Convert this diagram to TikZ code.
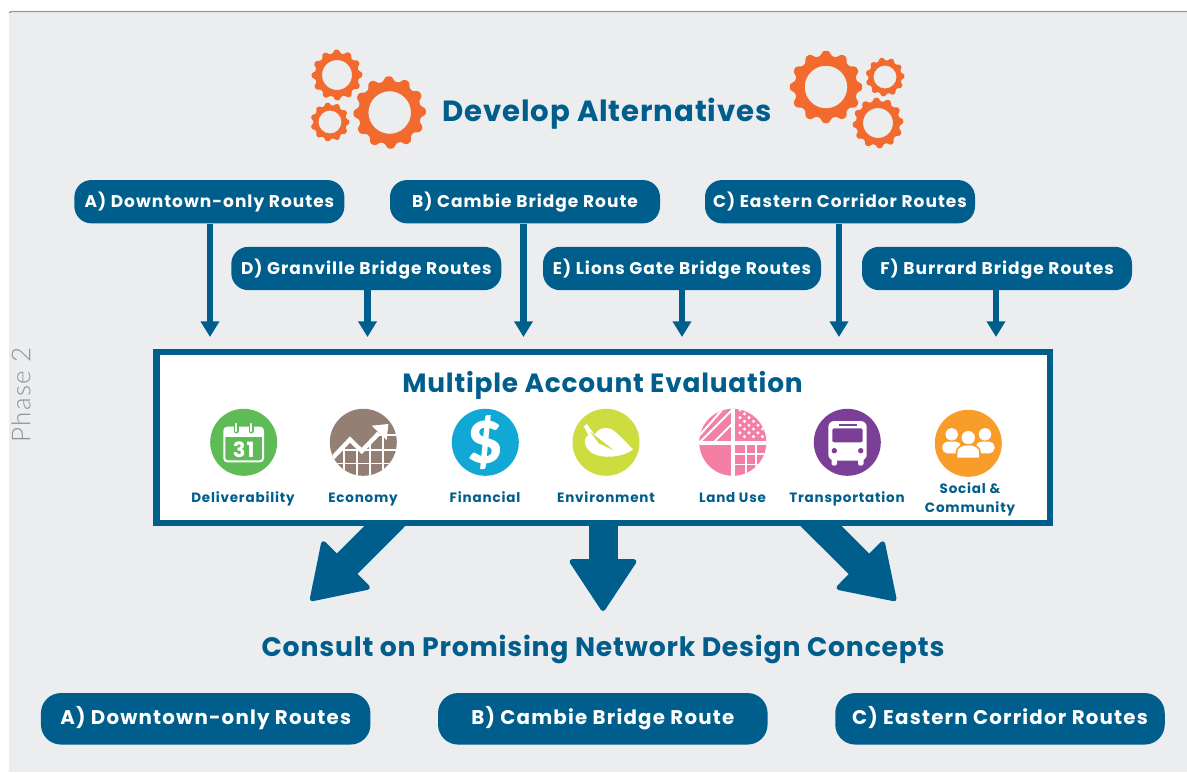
\documentclass[tikz,border=0pt]{standalone}
\usepackage{fontspec}
\setmainfont{Poppins}
\newfontfamily\lightf[LetterSpace=5.0]{Lato Light}
\newfontfamily\widef[LetterSpace=6.0]{Poppins}
\newfontfamily\titlef[LetterSpace=3.0]{Poppins}
\newfontfamily\dollarf{Lato Black}
\usetikzlibrary{arrows.meta,backgrounds}
\definecolor{navy}{HTML}{005E8C}
\definecolor{panel}{HTML}{ECEDEF}
\definecolor{rulegray}{HTML}{9A9C9F}
\definecolor{phasegray}{HTML}{909295}
\definecolor{gearor}{HTML}{F26A2E}
\definecolor{cgreen}{HTML}{5FBB55}
\definecolor{cbrown}{HTML}{937F73}
\definecolor{cblue}{HTML}{12A8D6}
\definecolor{clime}{HTML}{CDDC3F}
\definecolor{cpink}{HTML}{F47FA4}
\definecolor{cpurple}{HTML}{7B3F98}
\definecolor{corange}{HTML}{F99D2A}
\newcommand{\gearshape}[6]{%
  \fill[gearor,even odd rule] plot[domain=0:360,samples=241]
    ({#1+(#3-#3*0.075+#3*0.075*(cos(#5*\x+#6)-0.1*cos(3*(#5*\x+#6))))*cos(\x)},{#2+(#3-#3*0.075+#3*0.075*(cos(#5*\x+#6)-0.1*cos(3*(#5*\x+#6))))*sin(\x)}) -- cycle
    (#1,#2) circle[radius=#4pt];}
\tikzset{
  x=1pt,y=-1pt,
  routebox/.style={fill=navy,text=white,rounded corners=17pt,minimum width=270pt,minimum height=43.3pt,inner sep=0pt,text height=13.4pt,text depth=2pt,font=\widef\fontsize{17}{18}\selectfont\bfseries},
  bigbox/.style={routebox,rounded corners=20pt,minimum width=329.5pt,minimum height=51.5pt,text height=12.4pt,text depth=2pt,font=\widef\fontsize{19.8}{22}\selectfont\bfseries},
  flow/.style={draw=navy,line width=6.7pt,-{Triangle[width=18pt,length=15.7pt]}},
  bigflow/.style={draw=navy,line width=29pt,-{Triangle[width=70pt,length=54pt,round,line width=5pt]}},
  title/.style={text=navy,inner sep=0pt,anchor=base},
  acclabel/.style={text=navy,inner sep=0pt,anchor=base,align=center,font=\widef\fontsize{13.5}{19}\selectfont\bfseries},
  iconbg/.style={circle,minimum size=67pt,inner sep=0pt},
}
\begin{document}
\begin{tikzpicture}
\useasboundingbox (0,0) rectangle (1187,772);
% evaluation frame
\node[draw=navy,fill=white,line width=6.4pt,minimum width=893.6pt,minimum height=170.7pt,inner sep=0pt] (eval) at (603.2,437.4) {};
% panel and big arrows behind the frame
\coordinate (tipL) at (310.6,600.5);
\coordinate (tipM) at (603,611);
\coordinate (tipR) at (895.8,600.5);
\coordinate (startL) at (400,510.7);
\coordinate (startM) at (603,510);
\coordinate (startR) at (805.6,510.7);
\begin{pgfonlayer}{background}
\fill[panel] (9,11.5) rectangle (1187,772);
\draw[rulegray,line width=1.3pt] (9,12.5) -- (12,11.5) -- (1187,11.5);
\draw[bigflow] (startL) -- (tipL);
\draw[bigflow] (startM) -- (tipM);
\draw[bigflow] (startR) -- (tipR);
\end{pgfonlayer}
% gears
\gearshape{337}{75}{25.5}{15}{12}{10}
\gearshape{330}{122}{19.5}{11.5}{11}{0}
\gearshape{389.7}{112.5}{36.5}{21.3}{12}{20}
\gearshape{826}{87}{36.5}{21.3}{12}{0}
\gearshape{885}{77}{19.5}{11.5}{11}{30}
\gearshape{878}{123}{25.5}{15}{12}{50}
\node[title,font=\titlef\fontsize{29.2}{32}\selectfont\bfseries] (dev) at (607,121.7) {Develop Alternatives};
% route boxes
\node[routebox] (a) at (209.4,201.7) {A) Downtown-only Routes};
\node[routebox] (b) at (525,201.7) {B) Cambie Bridge Route};
\node[routebox] (c) at (840,201.7) {C) Eastern Corridor Routes};
\node[routebox] (d) at (366.3,268.5) {D) Granville Bridge Routes};
\node[routebox,minimum width=278pt] (e) at (682,268.5) {E) Lions Gate Bridge Routes};
\node[routebox] (f) at (997,268.5) {F) Burrard Bridge Routes};
\coordinate (ae) at (210,337);
\coordinate (be) at (523.5,337);
\coordinate (ce) at (839,337);
\coordinate (de) at (367.5,337);
\coordinate (ee) at (682,337);
\coordinate (fe) at (996,337);
\draw[flow] (a.south -| ae) -- (ae);
\draw[flow] (b.south -| be) -- (be);
\draw[flow] (c.south -| ce) -- (ce);
\draw[flow] (d.south -| de) -- (de);
\draw[flow] (e.south -| ee) -- (ee);
\draw[flow] (f.south -| fe) -- (fe);
\node[title,font=\titlef\fontsize{26.4}{30}\selectfont\bfseries] (mae) at (602.5,392.3) {Multiple Account Evaluation};
% icons: circles
\node[iconbg,fill=cgreen] (i1) at (243.7,442.3) {};
\node[iconbg,fill=cbrown] (i2) at (363.3,442.3) {};
\node[iconbg,fill=cblue] (i3) at (485.3,442.3) {};
\node[iconbg,fill=clime] (i4) at (606,442.3) {};
\node[iconbg,fill=cpink] (i5) at (732.8,442.3) {};
\node[iconbg,fill=cpurple] (i6) at (847.3,442.3) {};
\node[iconbg,fill=corange] (i7) at (968.3,443.3) {};
% calendar
\draw[white,line width=2pt,rounded corners=3pt] (224.3,427.7) rectangle (263,461.3);
\fill[white] (224.3,427.7) rectangle (263,437);
\foreach \q in {236,251}{\draw[cgreen,line width=5pt,line cap=round] (\q,424) -- (\q,431);\draw[white,line width=2.4pt,line cap=round] (\q,424) -- (\q,431);}
\node[text=white,inner sep=0pt,anchor=base,font=\widef\fontsize{21}{22}\selectfont\bfseries] (n31) at (243.7,457.3) {31};
% economy
\begin{scope}
\clip (i2) circle[radius=33.5pt];
\clip (325,464) -- (350,438.3) -- (361.7,450) -- (382,430) -- (400,430) -- (400,480) -- (325,480) -- cycle;
\foreach \q in {344.3,356.7,370,383.3}{\draw[white,line width=1.7pt] (\q,420) -- (\q,480);}
\foreach \q in {435,450,463.5}{\draw[white,line width=1.7pt] (325,\q) -- (400,\q);}
\end{scope}
\begin{scope}
\clip (i2) circle[radius=33.5pt];
\draw[white,line width=4.4pt] (333,457.5) -- (350,439.5) -- (361.7,451) -- (379,433);
\end{scope}
\fill[white] (371.7,425.7) -- (388.3,424) -- (386.7,440) -- cycle;
% dollar
\node[text=white,inner sep=0pt,font=\dollarf\fontsize{58}{58}\selectfont] (dol) at (485.3,442.3) {\$};
% leaf
\fill[white] (584,426.7) -- (586.7,424) -- (595,435) .. controls (597,428) and (608,425) .. (615,431.7) .. controls (622,437) and (628,445) .. (633.3,449.3) .. controls (622,458) and (602,459) .. (592,453) .. controls (585,448) and (582,440) .. (588.3,435) -- cycle;
\fill[clime] (590,431.5) -- (613.5,450) -- (599,443.5) -- cycle;
% land use
\begin{scope}
\clip (i5) circle[radius=33.5pt];
\draw[white,line width=2pt] (699,436) -- (722,410) (699,443) -- (732,410) (713,443) -- (732,424);
\foreach \r in {0,1,2,3}{\foreach \s in {0,1,2,3,4}{\fill[white] (740+\s*9,410+\r*7.6) circle[radius=1.7pt];\fill[white] (744.5+\s*9,413.8+\r*7.6) circle[radius=1.7pt];}}
\foreach \q in {745.7,756}{\draw[white,line width=1.8pt] (\q,442) -- (\q,478);}
\foreach \q in {454.3,464.5}{\draw[white,line width=1.8pt] (732,\q) -- (768,\q);}
\draw[white,line width=4.2pt] (733.3,405) -- (733.3,480) (695,442.7) -- (770,442.7);
\end{scope}
% bus
\fill[white,rounded corners=6pt] (828.3,421) rectangle (866.7,460.5);
\fill[white,rounded corners=2pt] (831.5,456) rectangle (837,465.5) (858,456) rectangle (863.5,465.5);
\fill[cpurple,rounded corners=2pt] (832.3,428.3) rectangle (862.7,442.3);
\fill[cpurple] (838.7,423.7) rectangle (856.7,425.7);
\fill[cpurple] (834.3,450.7) circle[radius=2.7pt] (860.7,450.7) circle[radius=2.7pt];
% people
\fill[white] (951.7,434.3) circle[radius=6.2pt] (985,434.3) circle[radius=6.2pt];
\fill[white,rounded corners=5pt] (942.3,453.3) -- (942.3,441.7) -- (961,441.7) -- (961,453.3) -- cycle;
\fill[white,rounded corners=5pt] (976,453.3) -- (976,441.7) -- (994.5,441.7) -- (994.5,453.3) -- cycle;
\fill[white,draw=corange,line width=1.6pt] (968.3,437.7) circle[radius=7.6pt];
\draw[fill=white,draw=corange,line width=1.6pt] (956.5,458.5) -- (956.5,452) .. controls (956.5,447) and (962,444.5) .. (968.3,444.5) .. controls (974.5,444.5) and (980,447) .. (980,452) -- (980,458.5) -- cycle;
% labels
\node[acclabel] (l1) at (243,502.6) {Deliverability};
\node[acclabel] (l2) at (363,502.6) {Economy};
\node[acclabel] (l3) at (485,502.6) {Financial};
\node[acclabel] (l4) at (606,502.6) {Environment};
\node[acclabel] (l5) at (732.5,502.6) {Land Use};
\node[acclabel] (l6) at (847,502.6) {Transportation};
\node[acclabel,anchor=center] (l7) at (970,499.5) {Social \&\\Community};
% bottom
\node[title,font=\titlef\fontsize{26.7}{30}\selectfont\bfseries] (cons) at (603,656) {Consult on Promising Network Design Concepts};
\node[bigbox] (ra) at (205.7,718.8) {A) Downtown-only Routes};
\node[bigbox] (rb) at (602.8,718.8) {B) Cambie Bridge Route};
\node[bigbox] (rc) at (1000,718.8) {C) Eastern Corridor Routes};
\node[text=phasegray,inner sep=0pt,rotate=90,font=\lightf\fontsize{26}{32}\selectfont] (ph) at (21,395) {Phase 2};
\end{tikzpicture}
\end{document}
